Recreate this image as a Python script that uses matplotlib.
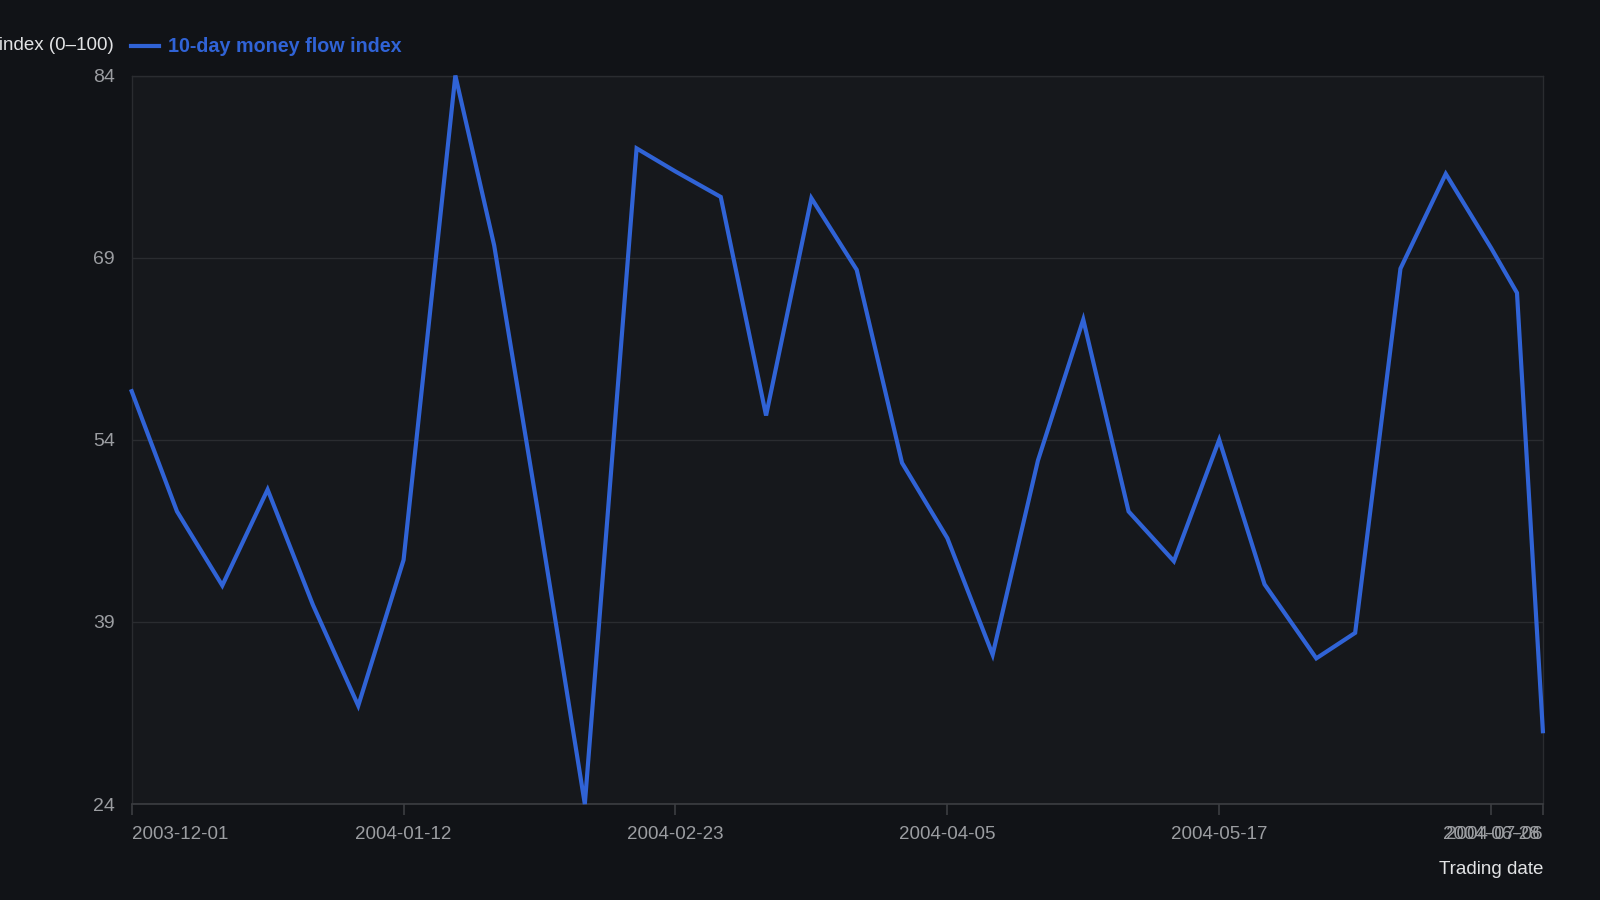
import matplotlib
matplotlib.use('Agg')
import matplotlib.pyplot as plt
import numpy as np
import pandas as pd

DATES = ['2003-12-01', '2003-12-08', '2003-12-15', '2003-12-22', '2003-12-29',
         '2004-01-05', '2004-01-12', '2004-01-20', '2004-01-26', '2004-02-02',
         '2004-02-09', '2004-02-17', '2004-02-23', '2004-03-01', '2004-03-08',
         '2004-03-15', '2004-03-22', '2004-03-29', '2004-04-05', '2004-04-12',
         '2004-04-19', '2004-04-26', '2004-05-03', '2004-05-10', '2004-05-17',
         '2004-05-24', '2004-06-01', '2004-06-07', '2004-06-14', '2004-06-21',
         '2004-06-28', '2004-07-02', '2004-07-06']
MFI = [58.0, 48.1, 42.0, 49.9, 40.4,
       32.1, 44.1, 84.0, 70.0, 47.3,
       24.0, 78.0, 76.1, 74.0, 56.0,
       73.9, 68.0, 52.1, 45.9, 36.3,
       52.3, 63.9, 48.1, 44.0, 54.0,
       42.1, 36.0, 38.1, 68.1, 75.9,
       69.8, 66.1, 30.0]
TICK_DATES = ['2003-12-01', '2004-01-12', '2004-02-23', '2004-04-05',
              '2004-05-17', '2004-06-28', '2004-07-06']

BG = '#111317'
PLOT_BG = '#16181c'
LINE = '#3063d6'
TICK_TXT = '#9b9da1'

plt.rcParams['font.family'] = ['Liberation Sans', 'DejaVu Sans']

dates = pd.to_datetime(DATES)
ticks = pd.to_datetime(TICK_DATES)

fig = plt.figure(figsize=(16, 9), dpi=100, facecolor=BG)
ax = fig.add_axes([0.0823, 0.1066, 0.9643 - 0.0823, 0.9161 - 0.1066])
ax.set_facecolor(PLOT_BG)

ax.plot(dates, MFI, color=LINE, linewidth=3, solid_joinstyle='miter',
        clip_on=False, zorder=3)

ymin, ymax = min(MFI), max(MFI)
ax.set_ylim(ymin, ymax)
ax.set_xlim(dates[0], dates[-1])
yt = np.linspace(ymin, ymax, 5)
ax.set_yticks(yt)
ax.set_yticklabels(['%.0f' % v for v in yt])
ax.grid(axis='y', color='#2a2c30', linewidth=1)
ax.set_axisbelow(True)

ax.set_xticks(ticks)
ax.set_xticklabels([d.strftime('%Y-%m-%d') for d in ticks])
labs = ax.get_xticklabels()
labs[0].set_ha('left')
labs[-1].set_ha('right')

for s in ['left', 'top', 'right']:
    ax.spines[s].set_color('#2a2c30')
    ax.spines[s].set_linewidth(1)
ax.spines['bottom'].set_color('#3c3e42')
ax.spines['bottom'].set_linewidth(1.2)

ax.tick_params(axis='x', colors='#3c3e42', labelcolor=TICK_TXT, length=8,
               width=1.2, labelsize=13.5, pad=8)
ax.tick_params(axis='y', length=0, labelcolor=TICK_TXT, labelsize=14, pad=12)

fig.text(1543 / 1600, 1 - 869 / 900, 'Trading date', ha='right', va='center',
         color='#e2e3e5', fontsize=13.5)
fig.text(114 / 1600, 1 - 45 / 900, 'Money flow index (0\u2013100)', ha='right',
         va='center', color='#e2e3e5', fontsize=13.5)
fig.lines.append(plt.Line2D([131 / 1600, 159 / 1600], [1 - 46 / 900, 1 - 46 / 900],
                            transform=fig.transFigure, color=LINE, linewidth=3))
fig.text(168 / 1600, 1 - 47 / 900, '10-day money flow index', ha='left',
         va='center', color=LINE, fontsize=14.2, fontweight='bold')

fig.savefig('out.png', dpi=100, facecolor=BG)
